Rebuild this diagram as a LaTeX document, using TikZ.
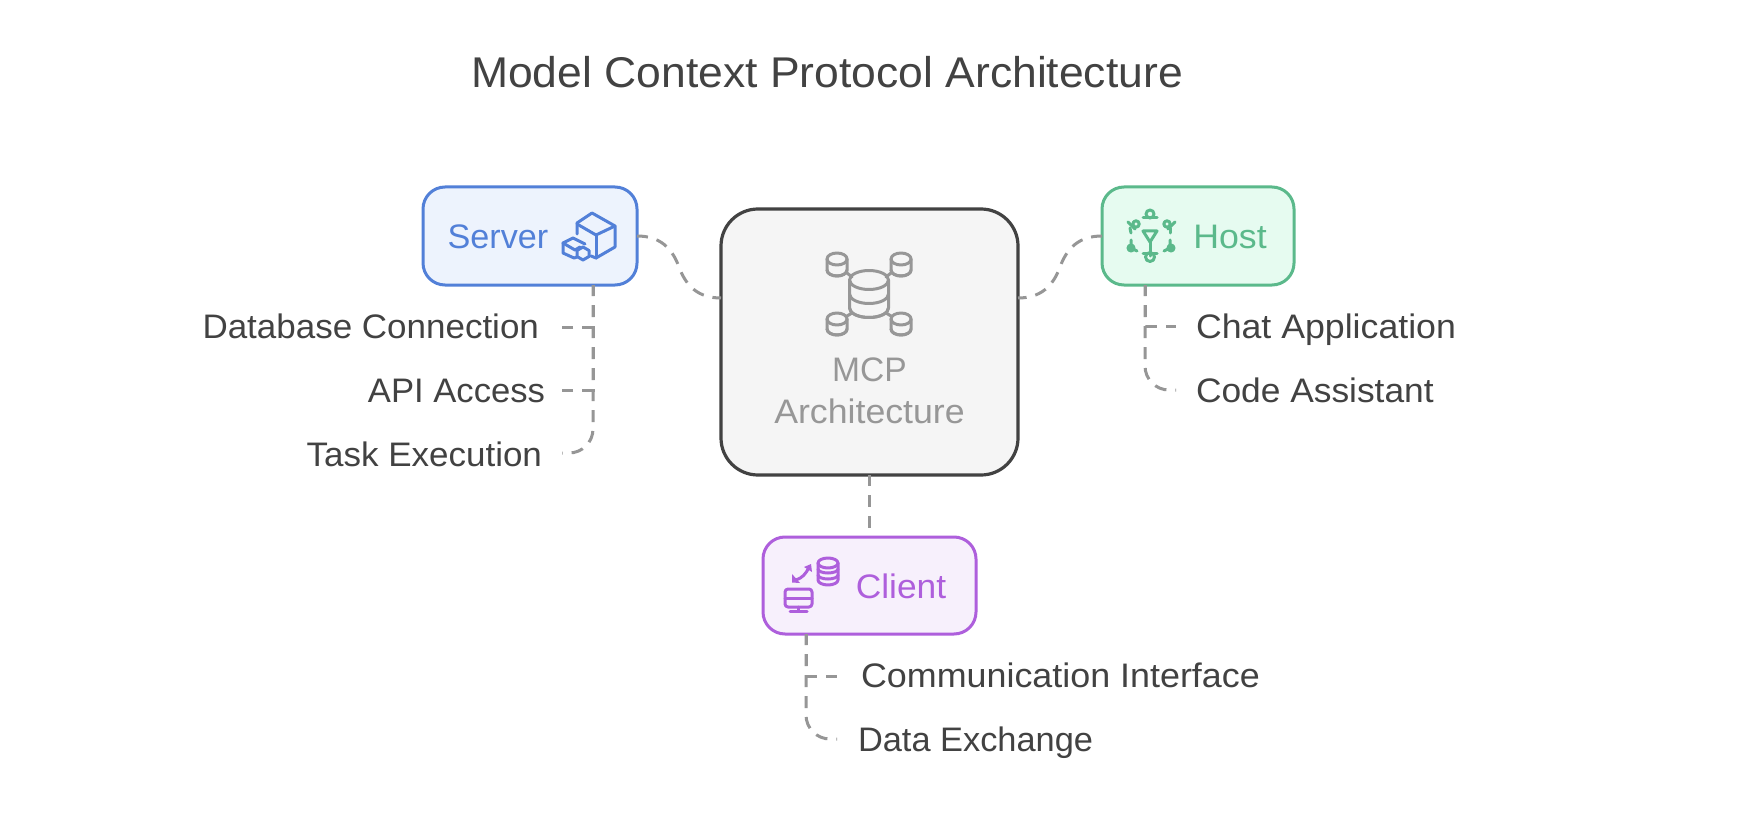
\documentclass[tikz,border=0pt]{standalone}
\usepackage{fontspec}
\setmainfont{Liberation Sans}[FakeStretch=1.05]
\definecolor{cblue}{HTML}{5280D8}\definecolor{fblue}{HTML}{EDF3FD}
\definecolor{cgreen}{HTML}{5BB98B}\definecolor{fgreen}{HTML}{E6FBF0}
\definecolor{cpurple}{HTML}{AE5FDC}\definecolor{fpurple}{HTML}{F7F0FC}
\definecolor{cdark}{HTML}{424242}\definecolor{fgray}{HTML}{F5F5F5}
\definecolor{cgray}{HTML}{979797}\definecolor{cdash}{HTML}{969696}
\newcommand{\xs}[2]{\scalebox{#1}[1]{#2}}
\newcommand{\cylicon}[6]{% x,y(top centre),rx,ry,h,layers
  \draw (#1,#2) ellipse [x radius=#3,y radius=#4];
  \draw (#1-#3,#2) -- (#1-#3,#2+#5) arc[start angle=180,end angle=0,x radius=#3,y radius=#4] -- (#1+#3,#2);
  \foreach \k in {1,...,#6}{\draw (#1-#3,#2+#5*\k/#6) arc[start angle=180,end angle=0,x radius=#3,y radius=#4];}
}
\tikzset{
  every node/.style={inner sep=0pt,outer sep=0pt},
  boxbase/.style={draw,line width=3pt,rounded corners=22pt,minimum width=#1,minimum height=98pt},
  linkline/.style={draw=cdash,line width=3pt,dash pattern=on 12pt off 9pt,dash phase=1pt},
  itemtext/.style={anchor=base,font=\fontsize{34}{34}\selectfont,text=cdark},
  boxtext/.style={anchor=base,font=\fontsize{34}{34}\selectfont},
  iconline/.style={line width=3pt,line join=round,line cap=round}
}
\begin{document}
\begin{tikzpicture}[x=1pt,y=-1pt]
\useasboundingbox (0,0) rectangle (1752,834);
\fill[white] (0,0) rectangle (1752,834);
\node[anchor=base,font=\fontsize{43}{43}\selectfont,text=cdark] (title) at (827,88) {\xs{0.985}{Model Context Protocol Architecture}};
% connector ends
\coordinate (cl) at (721,298);
\coordinate (cr) at (1018,298);
\coordinate (sb) at (593,285);
\coordinate (hb) at (1145,285);
\coordinate (cb) at (806,634);
\coordinate (e1) at (562,327);
\coordinate (e2) at (562,390);
\coordinate (e3) at (562,453);
\coordinate (e4) at (1176,326);
\coordinate (e5) at (1176,390);
\coordinate (e6) at (837,676);
\coordinate (e7) at (837,739);
% boxes
\node[boxbase=214pt,draw=cblue,fill=fblue] (server) at (530,236) {};
\node[boxbase=192pt,draw=cgreen,fill=fgreen] (host) at (1198,236) {};
\node[boxbase=213pt,minimum height=97pt,draw=cpurple,fill=fpurple] (client) at (869.5,585.5) {};
\node[draw=cdark,fill=fgray,line width=3.2pt,rounded corners=37pt,minimum width=297pt,minimum height=266pt] (center) at (869.5,342) {};
% connectors
\path[linkline] (server.east) .. controls (660,236) and (672,248) .. (679,267) .. controls (686,286) and (698,298) .. (cl);
\path[linkline] (host.west) .. controls (1079,236) and (1067,248) .. (1060,267) .. controls (1053,286) and (1041,298) .. (cr);
\path[linkline] (center.south) -- (client.north);
\path[linkline] (sb) |- (e1);
\path[linkline] (sb) |- (e2);
\path[linkline,rounded corners=24pt] (sb) |- (e3);
\path[linkline] (hb) |- (e4);
\path[linkline,rounded corners=24pt] (hb) |- (e5);
\path[linkline] (cb) |- (e6);
\path[linkline,rounded corners=24pt] (cb) |- (e7);
% text
\node[boxtext,text=cblue] (tserver) at (498,248) {\xs{0.957}{Server}};
\node[boxtext,text=cgreen] (thost) at (1230,248) {Host};
\node[boxtext,text=cpurple] (tclient) at (901,598) {\xs{0.99}{Client}};
\node[boxtext,text=cgray] (tmcp) at (869.5,381) {\xs{0.94}{MCP}};
\node[boxtext,text=cgray] (tarch) at (869.5,423) {Architecture};
\node[itemtext,anchor=base east] (db) at (539,338) {\xs{0.98}{Database Connection}};
\node[itemtext,anchor=base east] (api) at (545,402) {\xs{0.97}{API Access}};
\node[itemtext,anchor=base east] (task) at (542,466) {\xs{0.98}{Task Execution}};
\node[itemtext,anchor=base west] (chat) at (1196,338) {Chat Application};
\node[itemtext,anchor=base west] (code) at (1196,402) {\xs{0.99}{Code Assistant}};
\node[itemtext,anchor=base west] (comm) at (861,687) {\xs{1.005}{Communication Interface}};
\node[itemtext,anchor=base west] (data) at (858,751) {\xs{0.963}{Data Exchange}};
% server icon
\begin{scope}[iconline,draw=cblue]
\draw (592,213) -- (615,226) -- (615,247) -- (596,258) -- (591,256);
\draw (592,213) -- (577,223) -- (577,234);
\draw (577,224) -- (596,235) -- (615,226);
\draw (596,235) -- (596,258);
\draw (563,243) -- (573,238) -- (585,244);
\draw (563,243) -- (563,253) -- (574,258) -- (577,257);
\draw (563,243) -- (575,250) -- (580,247);
\draw (583,247) -- (589,250.5) -- (589,256.5) -- (583,260) -- (577,256.5) -- (577,250.5) -- cycle;
\end{scope}
% center icon
\begin{scope}[iconline,draw=cgray]
\cylicon{869}{280}{19.5}{9.5}{28}{2}
\cylicon{837}{259}{10}{6}{11}{1}
\cylicon{901}{259}{10}{6}{11}{1}
\cylicon{837}{319}{10}{6}{10}{1}
\cylicon{901}{319}{10}{6}{10}{1}
\draw (847,273) -- (852,277);
\draw (891,273) -- (886,277);
\draw (847,316) -- (852,313);
\draw (891,316) -- (886,313);
\end{scope}
% host icon
\begin{scope}[iconline,draw=cgreen,fill=cgreen]
\draw[fill=none] (1143,231) -- (1157,231) -- (1150,242) -- cycle;
\draw (1150,242) -- (1150,248);
\draw[fill=none] (1150,214) circle (4);
\draw (1143,218) -- (1157,218);
\draw[fill=none] (1150,257) circle (4.5);
\draw (1143,254) -- (1157,254);
\draw (1150,248) -- (1150,256);
\draw[fill=none] (1136,224) circle (3.2);
\draw (1128,222) -- (1135,229);
\draw (1130,228) -- (1131,233);
\draw[fill=none] (1167,224) circle (3.2);
\draw (1175,222) -- (1168,229);
\draw (1170,228) -- (1170,233);
\filldraw (1131,248) circle (3);
\draw (1131,240) -- (1131,248) -- (1137,251);
\filldraw (1171,248) circle (3);
\draw (1170,240) -- (1170,248) -- (1164,251);
\end{scope}
% client icon
\begin{scope}[iconline,draw=cpurple]
\draw (828,563) ellipse [x radius=10,y radius=5];
\draw (818,563) -- (818,580) arc[start angle=180,end angle=0,x radius=10,y radius=5] -- (838,563);
\draw (818,569) arc[start angle=180,end angle=0,x radius=10,y radius=4];
\draw (818,575) arc[start angle=180,end angle=0,x radius=10,y radius=4];
\draw[rounded corners=3pt] (785,589) rectangle (812,607);
\draw (785,598) -- (812,598);
\draw (798.5,607) -- (798.5,610);
\draw (790,611) -- (807,611);
\draw (796,580) .. controls (802,578) and (806,574) .. (809,567);
\fill[cpurple] (804,567) -- (811,564) -- (812,572) -- cycle;
\fill[cpurple] (792,574) -- (792,582.5) -- (800,583) -- cycle;
\end{scope}
\end{tikzpicture}
\end{document}
